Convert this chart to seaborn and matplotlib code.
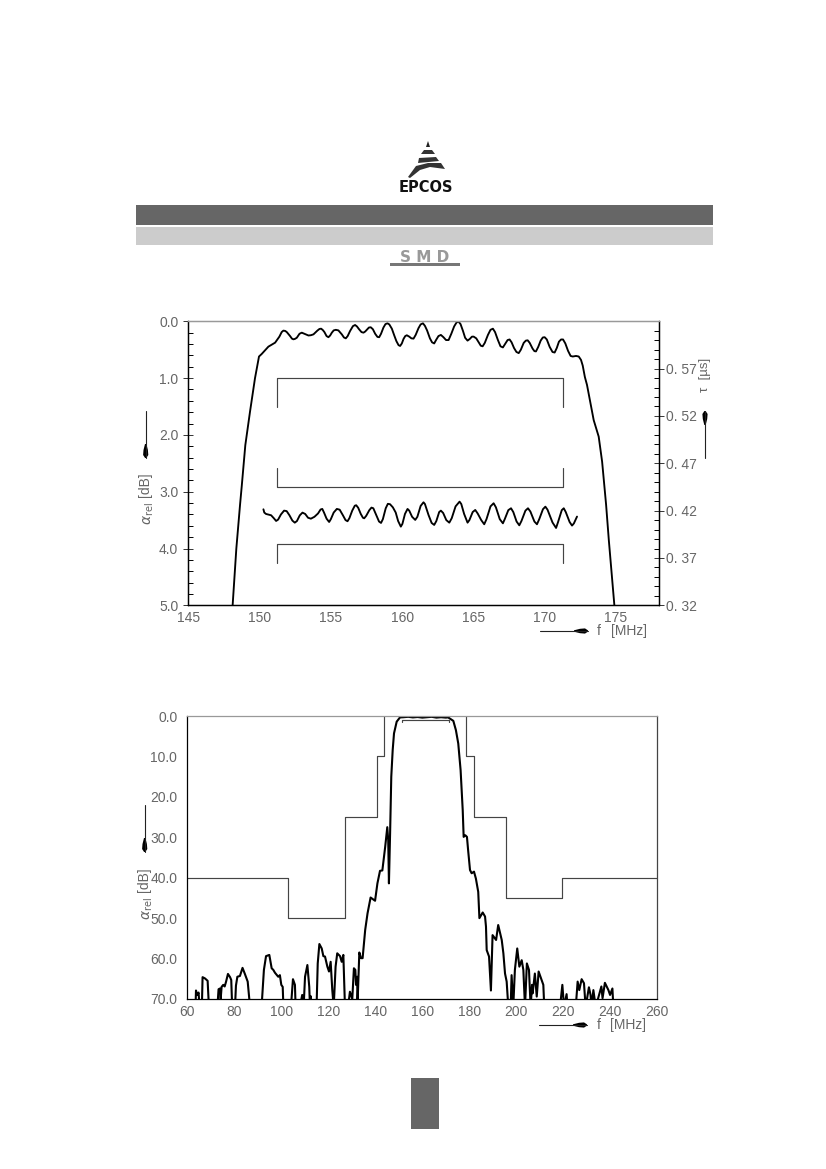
import matplotlib
matplotlib.use("Agg")
import matplotlib.pyplot as plt
import pandas as pd
import seaborn as sns
from matplotlib.lines import Line2D
from matplotlib.patches import Polygon, Rectangle
from matplotlib.ticker import FixedLocator, FixedFormatter, MultipleLocator

# upper plot: passband attenuation as (f, a) pairs
pass_f = [148.11, 148.37, 148.63, 148.75, 149.0, 149.33, 149.68, 149.96, 150.15, 150.62, 151.09, 151.39, 151.55, 151.67,
          151.8, 151.91, 152.14, 152.27, 152.37, 152.48, 152.61, 152.8, 152.96, 153.2, 153.43, 153.6, 153.78, 154.05,
          154.2, 154.32, 154.44, 154.55, 154.7, 154.83, 154.95, 155.07, 155.2, 155.35, 155.53, 155.77, 155.92, 156.05,
          156.18, 156.35, 156.55, 156.7, 156.83, 156.98, 157.15, 157.29, 157.41, 157.52, 157.67, 157.8, 157.95, 158.11,
          158.27, 158.39, 158.52, 158.69, 158.83, 158.97, 159.1, 159.28, 159.45, 159.6, 159.75, 159.86, 159.98, 160.1,
          160.22, 160.33, 160.5, 160.65, 160.8, 160.95, 161.15, 161.3, 161.46, 161.6, 161.75, 161.95, 162.1, 162.25,
          162.38, 162.55, 162.72, 162.9, 163.08, 163.26, 163.45, 163.65, 163.82, 163.96, 164.1, 164.27, 164.42, 164.59,
          164.75, 164.9, 165.02, 165.2, 165.4, 165.52, 165.65, 165.8, 166.02, 166.2, 166.37, 166.52, 166.72, 166.9,
          167.07, 167.22, 167.4, 167.54, 167.68, 167.85, 168.02, 168.18, 168.33, 168.53, 168.68, 168.81, 168.95, 169.15,
          169.28, 169.39, 169.55, 169.72, 169.87, 170.0, 170.15, 170.35, 170.55, 170.7, 170.85, 171.0, 171.15, 171.29,
          171.45, 171.64, 171.82, 171.97, 172.2, 172.39, 172.55, 172.67, 172.82, 172.97, 173.44, 173.79, 174.03, 174.31,
          174.5, 174.89]
pass_a = [5.0, 4.0, 3.23, 2.9, 2.18, 1.59, 1.0, 0.62, 0.575, 0.446, 0.376, 0.27, 0.19, 0.164,
          0.17, 0.19, 0.26, 0.305, 0.317, 0.31, 0.29, 0.22, 0.2, 0.225, 0.25, 0.245, 0.23, 0.165,
          0.135, 0.13, 0.155, 0.19, 0.26, 0.28, 0.25, 0.2, 0.16, 0.15, 0.16, 0.23, 0.285, 0.3,
          0.26, 0.17, 0.085, 0.065, 0.09, 0.14, 0.19, 0.2, 0.18, 0.15, 0.11, 0.105, 0.14, 0.22,
          0.275, 0.28, 0.22, 0.11, 0.05, 0.035, 0.055, 0.13, 0.25, 0.35, 0.42, 0.434, 0.39, 0.31,
          0.26, 0.246, 0.27, 0.3, 0.305, 0.24, 0.12, 0.055, 0.035, 0.08, 0.16, 0.3, 0.37, 0.39,
          0.33, 0.26, 0.24, 0.28, 0.33, 0.33, 0.22, 0.09, 0.02, 0.006, 0.05, 0.17, 0.29, 0.34,
          0.31, 0.27, 0.27, 0.3, 0.38, 0.43, 0.44, 0.38, 0.24, 0.15, 0.13, 0.19, 0.33, 0.44,
          0.46, 0.4, 0.33, 0.32, 0.37, 0.47, 0.54, 0.56, 0.5, 0.38, 0.34, 0.335, 0.38, 0.48,
          0.525, 0.53, 0.45, 0.34, 0.285, 0.28, 0.32, 0.45, 0.54, 0.55, 0.47, 0.36, 0.32, 0.32,
          0.39, 0.52, 0.61, 0.62, 0.61, 0.62, 0.68, 0.78, 0.98, 1.12, 1.74, 2.03, 2.47, 3.23,
          3.85, 5.0]

# group delay
delay_f = [150.27, 150.33, 150.45, 150.81, 151.0, 151.16, 151.3, 151.5, 151.72, 151.9, 152.1, 152.3, 152.47, 152.62,
           152.82, 153.01, 153.2, 153.4, 153.6, 153.85, 154.1, 154.28, 154.4, 154.52, 154.7, 154.88, 155.0, 155.2,
           155.42, 155.62, 155.85, 156.03, 156.17, 156.3, 156.5, 156.68, 156.78, 156.92, 157.1, 157.25, 157.34, 157.48,
           157.7, 157.85, 157.98, 158.18, 158.38, 158.52, 158.65, 158.85, 159.0, 159.15, 159.35, 159.55, 159.72, 159.91,
           160.02, 160.2, 160.38, 160.5, 160.7, 160.92, 161.07, 161.3, 161.5, 161.6, 161.85, 162.07, 162.25, 162.4,
           162.6, 162.72, 162.88, 163.1, 163.31, 163.48, 163.75, 164.03, 164.15, 164.35, 164.59, 164.72, 164.95, 165.13,
           165.3, 165.55, 165.76, 165.92, 166.2, 166.42, 166.58, 166.85, 167.07, 167.2, 167.45, 167.64, 167.8, 168.03,
           168.22, 168.37, 168.65, 168.83, 169.0, 169.28, 169.46, 169.62, 169.88, 170.05, 170.2, 170.55, 170.8, 170.93,
           171.2, 171.34, 171.48, 171.75, 171.92, 172.05, 172.27]
delay_t = [.4214, .418, .4165, .4151, .412, .4091, .4105, .416, .42, .4195, .415, .4095, .4073, .409,
           .415, .4179, .4165, .4125, .4115, .4135, .417, .4212, .4218, .418, .4115, .408, .411, .418,
           .4218, .421, .415, .41, .4088, .412, .42, .4252, .4257, .423, .4165, .4125, .4119, .4145,
           .4205, .4232, .4225, .4155, .4085, .407, .411, .4225, .4272, .4268, .4235, .418, .409, .4031,
           .406, .4165, .4218, .42, .4135, .4102, .4135, .425, .4288, .427, .4155, .407, .4049, .409,
           .4185, .42, .4175, .41, .4073, .412, .4245, .4295, .427, .4165, .4073, .41, .4185, .4207,
           .417, .41, .4056, .411, .4245, .4278, .4235, .411, .4066, .411, .4205, .4225, .4185, .4085,
           .4045, .409, .42, .4225, .419, .4085, .4056, .411, .4215, .4242, .421, .4075, .4017, .4075,
           .4205, .4225, .4185, .408, .4042, .4065, .4137]

# limit brackets of the upper plot
limit_f = [151.25, 151.25, 171.3, 171.3]
limit_a = [1.5, 1.0, 1.0, 1.5]
tau_high = [0.465, 0.445, 0.445, 0.465]
tau_low = [0.365, 0.385, 0.385, 0.365]

# lower plot: wideband attenuation, values over 70 fall outside the axis
wide_f = [63.5, 63.7, 64.2, 64.8, 65.2, 66.2, 66.5, 67.5, 68.65, 69.2, 72.8, 73.3, 73.9, 74.2, 74.6, 75.3, 75.9, 76.5,
          77.3, 78.2, 78.7, 79.1, 80.3, 80.7, 81.3, 82.4, 83.5, 84.5, 85.7, 86.7, 91.6, 92.6, 93.5, 94.9, 95.9, 96.6,
          97.3, 98.7, 99.4, 100.0, 100.6, 100.9, 104.1, 104.96, 105.8, 106.1, 107.9, 108.9, 109.5, 110.1, 111.1, 111.9,
          112.2, 112.5, 113.0, 115.0, 115.5, 116.2, 117.2, 117.9, 118.6, 119.6, 120.3, 121.0, 121.7, 122.3, 123.1,
          123.8, 125.0, 125.7, 126.4, 127.1, 128.4, 129.2, 130.2, 130.9, 131.5, 131.8, 132.3, 132.4, 133.2, 133.9,
          134.6, 135.7, 136.7, 138.0, 139.9, 140.9, 142.0, 143.0, 144.2, 145.1, 145.5, 145.8, 146.3, 146.8, 147.4,
          147.96, 149.1, 150.5, 152.0, 154.0, 156.0, 158.0, 160.0, 162.0, 164.0, 166.0, 168.0, 170.0, 171.0, 173.2,
          174.3, 175.3, 176.3, 177.2, 177.6, 178.3, 179.0, 179.5, 180.3, 181.0, 182.0, 182.8, 183.8, 184.3, 185.7,
          186.7, 187.1, 187.4, 188.4, 189.2, 189.9, 190.9, 191.4, 192.3, 193.8, 194.5, 195.2, 195.9, 196.6, 197.6,
          198.0, 198.7, 199.4, 200.4, 201.3, 202.3, 203.0, 203.7, 204.5, 205.4, 206.1, 206.7, 206.95, 207.9, 208.7,
          209.5, 210.8, 211.5, 211.9, 218.6, 219.6, 220.3, 221.4, 221.8, 225.3, 226.1, 226.8, 227.8, 228.8, 229.5,
          230.9, 231.6, 232.0, 232.8, 233.8, 235.2, 236.2, 236.7, 237.7, 239.2, 239.9, 240.9, 241.3]
wide_a = [72, 67.9, 69.0, 68.4, 72, 72, 64.6, 64.9, 65.5, 72, 72, 67.6, 67.4, 70, 67.0, 66.5, 66.9, 65.7,
          63.8, 64.6, 65.3, 72, 72, 66.7, 64.5, 64.3, 62.3, 63.8, 65.7, 72, 72, 62.8, 59.4, 59.1, 62.4, 62.8,
          63.5, 64.5, 64.1, 66.5, 67.0, 72, 72, 65.1, 66.5, 72, 72, 69.0, 72, 64.5, 61.6, 67.0,
          72, 69.3, 72, 72, 61.2, 56.4, 57.5, 59.4, 59.5, 62.0, 63.2, 60.8, 67.8, 72, 62.0,
          58.7, 59.4, 60.8, 59.1, 72, 72, 68.2, 70, 62.4, 62.8, 66.5, 64.5, 72, 58.5, 59.9,
          59.9, 52.9, 48.8, 44.9, 45.7, 41.4, 38.3, 38.2, 32.4, 27.5, 30.7, 41.4, 29.0, 15.0, 8.4,
          4.3, 1.4, 0.35, 0.3, 0.2, 0.35, 0.25, 0.4, 0.3, 0.2, 0.4, 0.3, 0.4, 0.35, 1.2,
          3.5, 6.8, 13.4, 23.3, 29.9, 29.5, 29.9, 33.2, 38.1, 38.9, 38.5, 40.2, 43.5, 50.0, 48.6,
          49.6, 52.1, 57.9, 59.5, 67.9, 54.2, 55.0, 55.4, 51.7, 55.4, 58.7, 63.7, 65.7, 72, 72,
          64.1, 72, 62.8, 57.5, 62.0, 60.4, 62.8, 72, 61.2, 62.8, 72, 66.5, 68.6, 63.7, 69.4,
          63.2, 65.3, 66.5, 72, 72, 66.5, 72, 68.8, 72, 72, 65.7, 67.8, 65.1, 66.1, 72,
          67.1, 69.0, 72, 67.8, 72, 69.0, 66.9, 69.8, 66.0, 67.8, 69.0, 67.4, 72]

# stop band mask and passband line
mask_left_f = [60, 103, 103, 127.2, 127.2, 140.6, 140.6, 143.8, 143.8]
mask_left_a = [40, 40, 50, 50, 25, 25, 10, 10, 0]
mask_right_f = [178.7, 178.7, 182, 182, 195.5, 195.5, 219.3, 219.3, 260]
mask_right_a = [0, 10, 10, 25, 25, 45, 45, 40, 40]
band_f = [151.3, 151.3, 171.4, 171.4]
band_a = [1.4, 1.0, 1.0, 1.4]

top_x_ticks = [145, 150, 155, 160, 165, 170, 175]
top_y_ticks = [0.0, 1.0, 2.0, 3.0, 4.0, 5.0]
top_tau_ticks = [0.32, 0.37, 0.42, 0.47, 0.52, 0.57]
top_tau_labels = ["0. 32", "0. 37", "0. 42", "0. 47", "0. 52", "0. 57"]
low_x_ticks = [60, 80, 100, 120, 140, 160, 180, 200, 220, 240, 260]
low_y_ticks = [0, 10, 20, 30, 40, 50, 60, 70]

W, H = 826, 1169
INK = "#666666"
DARK = "#666666"
LIGHT = "#cccccc"

sns.set_theme(style="white")
plt.rcParams["font.family"] = ["Liberation Sans", "DejaVu Sans"]
plt.rcParams["mathtext.fontset"] = "dejavusans"

fig = plt.figure(figsize=(W / 100, H / 100), dpi=100, facecolor="white")


def fx(x):
    return x / W


def fy(y):
    return 1 - y / H


def axes_at(left, top, right, bottom):
    return fig.add_axes([fx(left), fy(bottom), (right - left) / W, (bottom - top) / H])


def draw_rect(x0, y0, x1, y1, color):
    fig.add_artist(Rectangle((fx(x0), fy(y1)), (x1 - x0) / W, (y1 - y0) / H, transform=fig.transFigure,
                             facecolor=color, edgecolor="none"))


def draw_poly(points, color):
    pts = [(fx(x), fy(y)) for x, y in points]
    fig.add_artist(Polygon(pts, closed=True, transform=fig.transFigure, facecolor=color, edgecolor="none"))


def arrow(x0, y0, x1, y1):
    # thin shaft with a spindle shaped head at the (x1, y1) end
    fig.add_artist(Line2D([fx(x0), fx(x1)], [fy(y0), fy(y1)], color="#222222", lw=0.8))
    L = ((x1 - x0) ** 2 + (y1 - y0) ** 2) ** 0.5
    ux, uy = (x1 - x0) / L, (y1 - y0) / L
    nx, ny = -uy, ux
    head = []
    for back, half in [(0, 0.6), (3, 2.6), (8, 2.2), (14, 0.7)]:
        head.append((x1 - back * ux + half * nx, y1 - back * uy + half * ny))
    for back, half in [(14, 0.7), (8, 2.2), (3, 2.6), (0, 0.6)]:
        head.append((x1 - back * ux - half * nx, y1 - back * uy - half * ny))
    draw_poly(head, "black")


def style_axes(ax, right_color="black"):
    ax.set_xlabel("")
    ax.set_ylabel("")
    ax.spines["top"].set_color("#999999")
    ax.spines["top"].set_linewidth(0.9)
    ax.spines["bottom"].set_color("black")
    ax.spines["left"].set_color("black")
    ax.spines["right"].set_color(right_color)
    for s in ["bottom", "left", "right"]:
        ax.spines[s].set_linewidth(0.9)
    ax.patch.set_alpha(0)


def curve(ax, x, y, lw=1.35, color="black"):
    data = pd.DataFrame({"f": x, "v": y})
    sns.lineplot(data=data, x="f", y="v", ax=ax, sort=False, estimator=None, color=color, linewidth=lw,
                 solid_joinstyle="round")


def style_left_ticks(ax):
    ax.tick_params(axis="y", which="minor", direction="in", length=3.6, width=0.7, color="black")
    ax.tick_params(axis="y", which="major", direction="inout", length=7.2, width=0.7, color="#333333",
                   labelsize=10, labelcolor=INK, pad=3.6)


# page furniture
draw_rect(136, 205, 713, 225, DARK)
draw_rect(136, 227, 713, 245, LIGHT)
draw_rect(411, 1078, 439, 1129, DARK)

# logo
draw_poly([(428, 141), (430, 147), (426, 147)], "#222222")
draw_poly([(424, 150), (432, 150), (435, 154), (421, 154)], "#333333")
draw_poly([(419, 158), (436, 157), (439, 161), (418, 163)], "#333333")
draw_poly([(416, 166), (428, 163), (441, 163), (445, 169), (430, 167), (420, 170), (410, 178), (408, 177)], "#333333")
fig.text(fx(425.5), fy(188), "EPCOS", ha="center", va="center", fontsize=10.5, fontweight="bold", color="#111111",
         family="DejaVu Sans")

# SMD mark
fig.text(fx(425), fy(257.5), "S M D", ha="center", va="center", fontsize=11, fontweight="bold", color="#999999",
         family="DejaVu Sans")
draw_rect(390, 263, 460, 266, "#777777")

# upper plot
ax1 = axes_at(188.3, 321.3, 658.7, 605.3)
curve(ax1, limit_f, limit_a, lw=0.85, color="#444444")
curve(ax1, pass_f, pass_a)
ax1.set_xlim(145, 178)
ax1.set_ylim(5, 0)
style_axes(ax1)
ax1.set_xticks(top_x_ticks)
ax1.xaxis.set_minor_locator(MultipleLocator(1))
ax1.set_yticks(top_y_ticks)
ax1.set_yticklabels([f"{v:.1f}" for v in top_y_ticks])
ax1.yaxis.set_minor_locator(MultipleLocator(0.2))
ax1.tick_params(axis="x", which="both", direction="in", length=3, width=0.7, color="black",
                labelsize=10, labelcolor=INK, pad=4)
style_left_ticks(ax1)

ax1b = ax1.twinx()
curve(ax1b, limit_f, tau_high, lw=0.85, color="#444444")
curve(ax1b, limit_f, tau_low, lw=0.85, color="#444444")
curve(ax1b, delay_f, delay_t)
ax1b.set_xlim(145, 178)
ax1b.set_ylim(0.32, 0.62)
style_axes(ax1b)
ax1b.yaxis.set_major_locator(FixedLocator(top_tau_ticks))
ax1b.yaxis.set_major_formatter(FixedFormatter(top_tau_labels))
ax1b.yaxis.set_minor_locator(MultipleLocator(0.01))
ax1b.tick_params(axis="y", which="minor", direction="in", length=3.6, width=0.7, color="black")
ax1b.tick_params(axis="y", which="major", direction="inout", length=7.2, width=0.7, color="#333333",
                 labelsize=10, labelcolor=INK, pad=2)

# lower plot
ax2 = axes_at(187.3, 716, 657.3, 999)
curve(ax2, mask_left_f, mask_left_a, lw=0.85, color="#444444")
curve(ax2, mask_right_f, mask_right_a, lw=0.85, color="#444444")
curve(ax2, band_f, band_a, lw=0.85, color="#444444")
curve(ax2, wide_f, wide_a, lw=1.5)
ax2.set_xlim(60, 260)
ax2.set_ylim(70, 0)
style_axes(ax2, right_color="#444444")
ax2.set_xticks(low_x_ticks)
ax2.xaxis.set_minor_locator(MultipleLocator(4))
ax2.set_yticks(low_y_ticks)
ax2.set_yticklabels([f"{v:.1f}" for v in low_y_ticks])
ax2.yaxis.set_minor_locator(MultipleLocator(5))
ax2.tick_params(axis="x", which="both", direction="in", length=2.9, width=0.7, color="black",
                labelsize=10, labelcolor=INK, pad=4)
style_left_ticks(ax2)

# axis captions, placed by hand like the original sheet
alpha_text = r"$\alpha_{\mathrm{rel}}$"
fig.text(fx(145), fy(485), "[dB]", rotation=90, ha="center", va="center", fontsize=10, color=INK)
fig.text(fx(149), fy(514), alpha_text, rotation=90, ha="center", va="center", fontsize=10, color=INK)
fig.text(fx(144.5), fy(880), "[dB]", rotation=90, ha="center", va="center", fontsize=10, color=INK)
fig.text(fx(147.5), fy(908.5), alpha_text, rotation=90, ha="center", va="center", fontsize=10, color=INK)
fig.text(fx(705), fy(375), "τ  [µs]", rotation=90, ha="center", va="center", fontsize=9.5, color=INK)
fig.text(fx(597), fy(631), "f", ha="left", va="center", fontsize=10, color=INK)
fig.text(fx(611), fy(631), "[MHz]", ha="left", va="center", fontsize=10, color=INK)
fig.text(fx(597), fy(1025), "f", ha="left", va="center", fontsize=10, color=INK)
fig.text(fx(610), fy(1025), "[MHz]", ha="left", va="center", fontsize=10, color=INK)

arrow(145.7, 411, 145.7, 458)
arrow(144.7, 805, 144.7, 852)
arrow(705, 458, 705, 411)
arrow(540, 631, 588, 631)
arrow(539, 1025, 587, 1025)

fig.savefig("out.png", dpi=100, facecolor="white")
